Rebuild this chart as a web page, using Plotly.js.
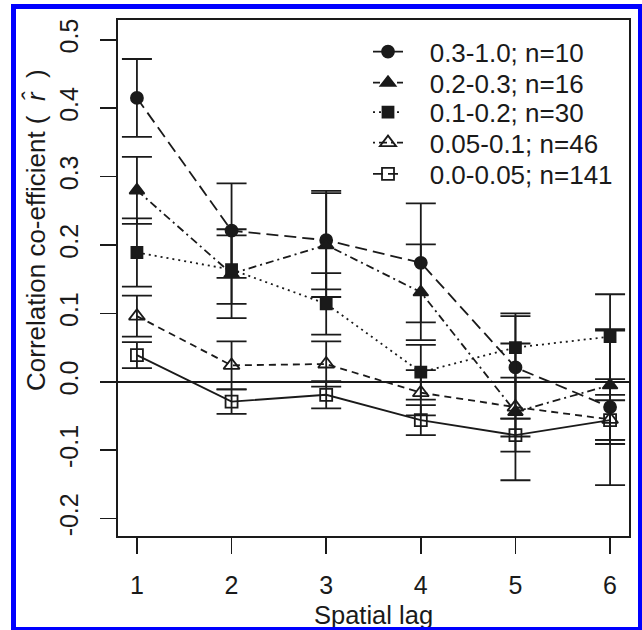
<!DOCTYPE html>
<html>
<head>
<meta charset="utf-8">
<script src="https://cdn.plot.ly/plotly-3.0.1.min.js"></script>
<style>
  html, body { margin: 0; padding: 0; background: #fff; overflow: hidden; }
  #chart { width: 642px; height: 630px; }
  #frame { position: absolute; left: 11px; top: 4px; width: 631px; height: 626px; box-sizing: border-box;
           border-left: 5px solid #0000ff; border-top: 5px solid #0000ff; border-right: 4px solid #0000ff;
           border-bottom: 3px solid #0000ff; pointer-events: none; z-index: 10; }
</style>
</head>
<body>
<div id="chart"></div>
<div id="frame"></div>
<script>
// ---- data ----
const lags = [1, 2, 3, 4, 5, 6];
const seriesNames = ["0.3-1.0; n=10", "0.2-0.3; n=16", "0.1-0.2; n=30", "0.05-0.1; n=46", "0.0-0.05; n=141"];
const rA = [0.415, 0.221, 0.207, 0.174, 0.021, -0.037];
const errA = [0.057, 0.069, 0.072, 0.087, 0.075, 0.114];
const rB = [0.280, 0.158, 0.200, 0.131, -0.044, -0.005];
const errB = [0.049, 0.065, 0.076, 0.070, 0.100, 0.080];
const rC = [0.189, 0.164, 0.114, 0.014, 0.050, 0.066];
const errC = [0.050, 0.050, 0.045, 0.040, 0.050, 0.062];
const rD = [0.096, 0.024, 0.026, -0.016, -0.037, -0.055];
const errD = [0.030, 0.035, 0.033, 0.033, 0.043, 0.036];
const rE = [0.039, -0.029, -0.019, -0.056, -0.078, -0.056];
const errE = [0.019, 0.018, 0.020, 0.022, 0.024, 0.029];
const xTickLabels = ["1", "2", "3", "4", "5", "6"];
const yTickVals = [-0.2, -0.1, 0.0, 0.1, 0.2, 0.3, 0.4, 0.5];
const yTickLabels = ["-0.2", "-0.1", "0.0", "0.1", "0.2", "0.3", "0.4", "0.5"];

// ---- styles ----
const ink = '#1a1a1a';
const font = 'Liberation Sans, Arial, Helvetica, sans-serif';
const values = [rA, rB, rC, rD, rE];
const errors = [errA, errB, errC, errD, errE];
const symbols = ['circle', 'triangle-up', 'square', 'triangle-up-open', 'square-open'];
const sizes = [12, 13, 11, 14, 12];
const chartDash = ['12px,6px', '8px,4px,2px,4px', '2px,4px', '7px,5px', 'solid'];
const legendDash = ['solid', '7px,5px', '2px,4px', '2px,4px,8px,4px', '10px,5px'];
const legendRowY = [51.7, 82.7, 112.3, 142.7, 174];   // pixel rows of legend entries
const lw = 1.8;

const traces = [];
for (let i = 0; i < values.length; i++) {
  traces.push({
    x: lags, y: values[i], type: 'scatter', mode: 'lines+markers',
    showlegend: false, name: seriesNames[i],
    line: { color: ink, width: lw, dash: chartDash[i] },
    marker: { symbol: symbols[i], size: sizes[i], color: ink, line: { color: ink, width: lw } },
    error_y: { type: 'data', array: errors[i], visible: true, color: ink, thickness: lw, width: 15 }
  });
}
const layoutLegends = {};
for (let i = 0; i < values.length; i++) {
  const key = i === 0 ? 'legend' : 'legend' + (i + 1);
  traces.push({
    x: [null], y: [null], type: 'scatter', mode: 'lines+markers',
    showlegend: true, legend: key, name: '\u00a0\u00a0\u00a0' + seriesNames[i],
    line: { color: ink, width: lw, dash: legendDash[i] },
    marker: { symbol: symbols[i], size: sizes[i], color: ink, line: { color: ink, width: lw } }
  });
  layoutLegends[key] = {
    x: (368 - 118) / 511, y: (536 - legendRowY[i]) / 516, xanchor: 'left', yanchor: 'middle',
    bgcolor: 'rgba(0,0,0,0)', borderwidth: 0,
    font: { family: font, size: 26, color: ink }
  };
}

const layout = Object.assign({
  width: 642, height: 630,
  margin: { l: 118, r: 13, t: 20, b: 94 },
  paper_bgcolor: '#fff', plot_bgcolor: '#fff',
  font: { family: font, color: ink, size: 25 },
  showlegend: true,
  xaxis: {
    range: [0.8, 6.2], tickvals: lags, ticktext: xTickLabels,
    ticks: 'outside', ticklen: 16, tickwidth: 1.6, tickcolor: ink, ticklabelstandoff: 10,
    showline: true, mirror: true, linecolor: ink, linewidth: 1.6,
    showgrid: false, zeroline: false, tickfont: { size: 25, family: font, color: ink }
  },
  yaxis: {
    range: [-0.2255, 0.529], tickvals: yTickVals, ticktext: yTickLabels, tickangle: -90,
    ticks: 'outside', ticklen: 16, tickwidth: 1.6, tickcolor: ink, ticklabelstandoff: 12,
    showline: true, mirror: true, linecolor: ink, linewidth: 1.6,
    showgrid: false, zeroline: true, zerolinecolor: ink, zerolinewidth: 1.6,
    tickfont: { size: 25, family: font, color: ink }
  },
  annotations: [
    { text: 'Spatial lag', xref: 'paper', yref: 'paper', x: 0.5, y: (536 - 615) / 516,
      xanchor: 'center', yanchor: 'middle', showarrow: false, font: { size: 25.5, family: font, color: ink } },
    { text: 'Correlation co-efficient (  <i>r̂</i>  )', xref: 'paper', yref: 'paper',
      x: (36 - 118) / 511, y: (536 - 230) / 516, textangle: -90,
      xanchor: 'center', yanchor: 'middle', showarrow: false, font: { size: 26, family: font, color: ink } }
  ]
}, layoutLegends);

Plotly.newPlot('chart', traces, layout, { staticPlot: true, displayModeBar: false });
</script>
</body>
</html>
